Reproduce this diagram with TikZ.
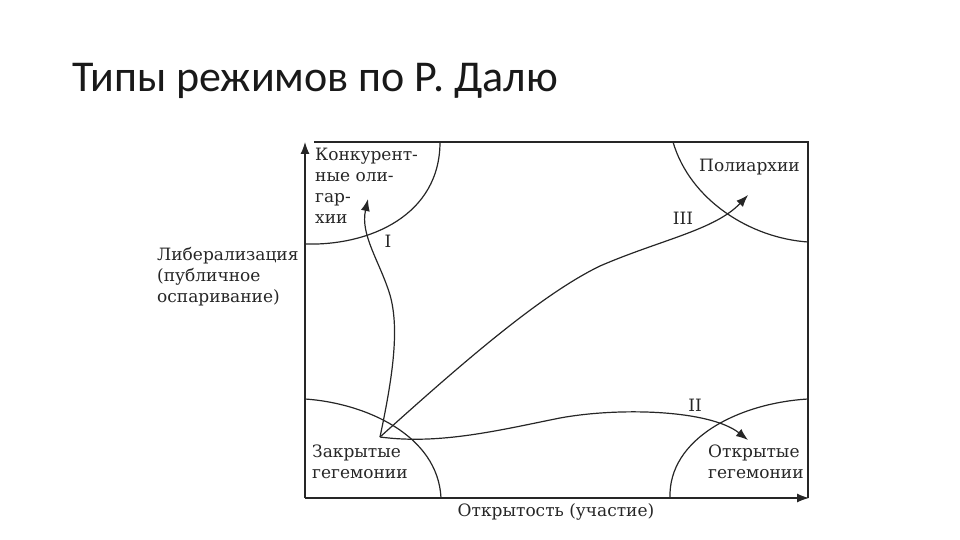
\documentclass[tikz,border=0pt]{standalone}
\usepackage{fontspec}
\setmainfont{DejaVu Serif}
\newfontfamily\titlefont{Carlito}
\usetikzlibrary{arrows.meta}
\def\oligarcharc{(440,142) .. controls (440,215) and (370,246) .. (305,244)}
\def\polyarcharc{(673,142) .. controls (690,200) and (750,238) .. (808,242)}
\def\closedarc{  (305,399) .. controls (365,403) and (438,435) .. (441,498)}
\def\openarc{    (808,399) .. controls (740,403) and (668,438) .. (670,498)}
\colorlet{frame line}{black!85}
\colorlet{label text}{black!85}
\tikzset{frameline/.style={draw=frame line, line width=1.2pt},
      pathline/.style={draw=frame line, line width=1.2pt, -{Latex[length=12pt,width=9pt]}},
      regime/.style={text=label text, inner sep=0pt, align=left,
        font=\fontsize{17}{21}\selectfont},
      roman/.style={text=label text, inner sep=0pt, font=\fontsize{17}{21}\selectfont}}

\begin{document}
\begin{tikzpicture}[x=1pt,y=-1pt]
\useasboundingbox (0,0) rectangle (960,540);
\node[anchor=base west, inner sep=0pt, text=black!90, font=\titlefont\fontsize{44}{52}\selectfont]
      (title) at (72,92) {Типы режимов по Р. Далю};
    % axes and frame
    \draw[frameline, -{Latex[length=12pt,width=9pt]}] (305,498) -- (305,142);
    \draw[frameline, -{Latex[length=12pt,width=9pt]}] (305,498) -- (809,498);
    \draw[frameline] (314,142) -- (808,142) -- (808,498);
    \draw[frameline] \oligarcharc;
    \draw[frameline] \polyarcharc;
    \draw[frameline] \closedarc;
    \draw[frameline] \openarc;
    % regimes
    \node[regime, anchor=west] (oligarchies) at (315,186) {Конкурент-\\ные оли-\\гар-\\хии};
    \node[regime, anchor=west] (polyarchies) at (699,167) {Полиархии};
    \node[regime, anchor=west] (closed) at (312,462) {Закрытые\\гегемонии};
    \node[regime, anchor=west] (open) at (708,462) {Открытые\\гегемонии};
    \node[regime, anchor=west] (liberal) at (157,277) {Либерализация\\(публичное\\оспаривание)};
    \node[regime] (inclusive) at (556,512) {Открытость (участие)};
    % paths
    \coordinate (start) at (380,437);
    \coordinate (tipI) at (368,199);
    \coordinate (tipII) at (748,440);
    \coordinate (tipIII) at (748,195);
    \draw[pathline] (start) .. controls (392,380) and (400,330) .. (390,295)
      .. controls (380,262) and (360,235) .. (tipI);
    \draw[pathline] (start) .. controls (440,445) and (500,430) .. (560,418)
      .. controls (620,407) and (710,410) .. (tipII);
    \draw[pathline] (start) .. controls (460,365) and (540,295) .. (600,266)
      .. controls (660,240) and (715,230) .. (tipIII);
    \node[roman] (I) at (388,241) {I};
    \node[roman] (II) at (695,405) {II};
    \node[roman] (III) at (683,218) {III};
\end{tikzpicture}
\end{document}
